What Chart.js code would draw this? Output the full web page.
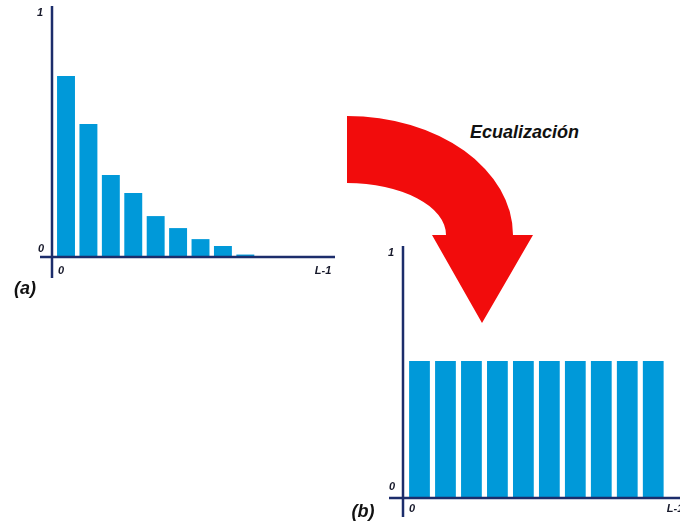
<!DOCTYPE html>
<html>
<head>
<meta charset="utf-8">
<script src="https://cdn.jsdelivr.net/npm/chart.js@4.4.0/dist/chart.umd.min.js"></script>
<style>
    html, body { margin: 0; padding: 0; background: #fff; overflow: hidden; }
    body { width: 680px; height: 525px; position: relative; }
    canvas { position: absolute; }
    #chartA { left: 0; top: 0; }
    #chartB { left: 340px; top: 230px; }
    #arrow { position: absolute; left: 0; top: 0; }
    .title { position: absolute; left: 470px; top: 122px; font: italic bold 18px "Liberation Sans", Arial, sans-serif; color: #111; }
</style>
</head>
<body>
<svg id="arrow" width="680" height="525">
    <path d="M347,116 A166,119 0 0 1 513,235 L533,235 L482,323 L432,235 L446,235 A99,52 0 0 0 347,183 Z" fill="#f20c0c"/>
</svg>
<div class="title">Ecualización</div>
<canvas id="chartA" width="340" height="300"></canvas>
<canvas id="chartB" width="350" height="295"></canvas>
<script>
// niveles de gris y frecuencias relativas
var levelsA = [0, 1, 2, 3, 4, 5, 6, 7, 8];
var histA = [0.739, 0.543, 0.335, 0.261, 0.167, 0.118, 0.073, 0.045, 0.01];
var levelsB = [0, 1, 2, 3, 4, 5, 6, 7, 8, 9];
var histB = [0.557, 0.557, 0.557, 0.557, 0.557, 0.557, 0.557, 0.557, 0.557, 0.557];
var yTicks = ["0", "1"];
var xTicks = ["0", "L-1"];

var barColor = "#0099d9";
var axisColor = "#1c2d6b";

var axesPlugin = {
    id: "crossAxes",
    afterDraw: function (chart, args, opts) {
        var ctx = chart.ctx;
        var xs = chart.scales.x, ys = chart.scales.y;
        var x0 = xs.left, x1 = xs.right;
        var y0 = ys.getPixelForValue(0), y1 = ys.getPixelForValue(1);
        ctx.save();
        ctx.strokeStyle = axisColor;
        ctx.lineWidth = 2.5;
        ctx.beginPath();
        ctx.moveTo(x0, y1 - 6);
        ctx.lineTo(x0, y0 + opts.below);
        ctx.moveTo(x0 - opts.left, y0);
        ctx.lineTo(x1, y0);
        ctx.stroke();

        ctx.fillStyle = "#16182a";
        ctx.font = "italic bold 11px 'Liberation Sans', Arial, sans-serif";
        ctx.textAlign = "center";
        ctx.textBaseline = "middle";
        ctx.fillText(yTicks[1], x0 - 12, y1 + 1);
        ctx.fillText(yTicks[0], x0 - 11, y0 - opts.zeroUp);
        ctx.fillText(xTicks[0], x0 + 9, y0 + opts.down);
        ctx.fillText(xTicks[1], x1 - 12, y0 + opts.down);

        ctx.fillStyle = "#111";
        ctx.font = "italic bold 18px 'Liberation Sans', Arial, sans-serif";
        ctx.fillText(opts.tag, x0 + opts.tagDx, y0 + opts.tagDy);
        ctx.restore();
    }
};

function drawHistogram(canvasId, levels, values, xMin, xMax, padding, axisOpts) {
    var points = levels.map(function (l, i) {
        return {x: l, y: values[i]};
    });
    return new Chart(document.getElementById(canvasId).getContext("2d"), {
        type: "bar",
        data: {
            datasets: [{
                data: points,
                backgroundColor: barColor,
                borderWidth: 0,
                barPercentage: 0.8,
                categoryPercentage: 1
            }]
        },
        options: {
            responsive: false,
            animation: false,
            layout: {padding: padding},
            scales: {
                x: {type: "linear", min: xMin, max: xMax, offset: false, display: false},
                y: {min: 0, max: 1, display: false}
            },
            plugins: {
                legend: {display: false},
                tooltip: {enabled: false},
                crossAxes: axisOpts
            }
        },
        plugins: [axesPlugin]
    });
}

drawHistogram("chartA", levelsA, histA, -0.625, 12, {left: 52, right: 5, top: 12, bottom: 43},
    {below: 21, left: 12, zeroUp: 8, down: 14, tag: "(a)", tagDx: -27, tagDy: 32});
drawHistogram("chartB", levelsB, histB, -0.635, 10.3, {left: 63, right: 3, top: 22, bottom: 27},
    {below: 19, left: 14, zeroUp: 11, down: 11, tag: "(b)", tagDx: -40, tagDy: 14});
</script>
</body>
</html>
